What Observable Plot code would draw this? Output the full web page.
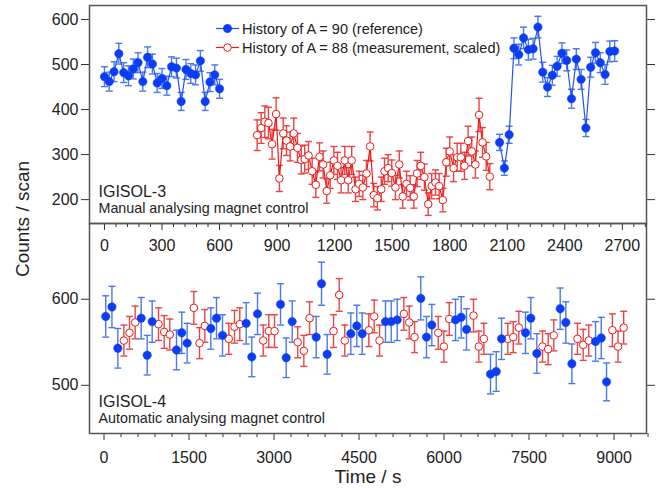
<!DOCTYPE html>
<html><head><meta charset="utf-8">
<script src="https://cdn.jsdelivr.net/npm/d3@7"></script>
<script src="https://cdn.jsdelivr.net/npm/@observablehq/plot@0.6"></script>
<style>
body{margin:0;background:#fff;font-family:"Liberation Sans",Arial,sans-serif;color:#222;}
#wrap{position:relative;width:660px;height:490px;overflow:hidden;}
.lbl{position:absolute;white-space:nowrap;font-size:19px;line-height:19px;color:#222;}
#legend{position:absolute;left:214px;top:19px;font-size:14.5px;color:#222;}
#legend .row{display:flex;align-items:center;height:19px;}
#legend svg{display:block;margin-right:1px;}
</style></head><body><div id="wrap"></div>
<script>
// ---------- data ----------
// Top panel (IGISOL-3), x in seconds
const topBlueT1 = [0,25,50,75,100,125,150,175,200,225,250,275,300,325,350,375,400,425,450,475,500,525,550,575,600];
const topBlueV1 = [473,462,484,524,482,475,490,504,462,516,501,459,469,453,495,492,418,489,480,477,508,418,461,477,446];
const topBlueE1 = [22,21,22,23,22,22,22,22,21,23,22,21,22,21,22,22,20,22,22,22,23,20,21,22,21];
const topBlueT2 = [2060,2085,2110,2135,2160,2185,2210,2235,2260,2285,2310,2335,2360,2385,2410,2435,2460,2485,2510,2535,2560,2585,2610,2635,2660];
const topBlueV2 = [327,270,344,536,522,559,533,535,583,483,450,476,496,525,509,424,512,467,359,494,526,504,478,529,530];
const topBlueE2 = [18,16,19,23,23,24,23,23,24,22,21,22,22,23,23,21,23,22,19,22,23,22,22,23,23];
const topRedT = [796,817,836,855,874,895,912,932,949,968,987,1006,1026,1044,1064,1083,1102,1121,1140,1159,1177,1196,1215,1234,1253,1271,1289,1309,1328,1347,1366,1385,1404,1423,1443,1460,1479,1498,1517,1537,1555,1575,1594,1613,1630,1649,1668,1688,1706,1726,1745,1764,1782,1800,1820,1839,1858,1877,1896,1915,1934,1953,1971,1990,2009];
const topRedV = [343,359,373,370,323,390,247,347,331,318,347,315,288,290,298,263,233,295,278,219,254,287,275,243,287,243,287,223,235,227,258,318,210,203,223,263,270,259,227,278,207,235,226,207,258,275,250,190,230,238,230,199,283,307,270,294,294,275,330,307,278,388,327,296,251];
const topRedE = [34,34,35,35,33,36,29,34,33,32,34,32,31,31,31,29,28,31,30,27,29,31,30,28,31,28,31,27,28,27,29,32,26,26,27,29,30,29,27,30,26,28,27,26,29,30,29,25,28,28,28,26,31,32,30,31,31,30,33,32,30,37,33,31,29];

// Bottom panel (IGISOL-4)
const botBlueT = [30,140,244,656,762,850,1279,1372,1467,1885,1985,2091,2509,2608,2709,3115,3215,3321,3744,3838,3938,4355,4461,4556,4967,5068,5174,5590,5691,5785,6203,6303,6397,6820,6921,7015,7438,7532,7638,8050,8149,8256,8674,8774,8868];
const botBlueV = [580,591,543,578,535,574,541,561,549,566,578,558,572,533,583,594,532,574,556,618,536,560,569,560,574,574,576,601,556,570,576,579,565,513,516,554,561,578,537,589,573,525,551,555,504];
const botBlueE = [24,24,23,24,23,24,23,24,23,24,24,24,24,23,24,24,23,24,24,25,23,24,24,24,24,24,24,25,24,24,24,24,24,23,23,24,24,24,23,24,24,23,23,24,22];
const botRedT = [350,450,550,962,1062,1161,1585,1685,1779,2202,2303,2396,2809,2908,3009,3418,3526,3627,4050,4150,4249,4673,4768,4862,5291,5386,5480,5898,5997,6092,6520,6614,6703,7126,7221,7320,7738,7838,7937,8355,8456,8554,8971,9071,9170];
const botRedV = [552,561,573,571,562,559,590,549,569,554,568,571,552,563,563,550,540,578,563,605,552,564,580,552,583,573,556,561,545,577,581,545,554,554,556,567,545,542,558,554,547,552,564,545,567];
const botRedE = [18,19,19,19,19,18,19,18,19,18,19,19,18,19,19,18,18,19,19,19,18,19,19,18,19,19,18,19,18,19,19,18,18,18,18,19,18,18,18,18,18,18,19,18,19];

// Axis ticks
const topYTicks = [200,300,400,500,600];
const topXTicks = [0,300,600,900,1200,1500,1800,2100,2400,2700];
const topXMinor = d3.range(0, 2821, 60).filter(v => v % 300 !== 0);
const botYTicks = [500,600];
const botXTicks = [0,1500,3000,4500,6000,7500,9000];
const botXMinor = d3.range(0, 9601, 300).filter(v => v % 1500 !== 0);

const seriesNames = ["History of A = 90 (reference)", "History of A = 88 (measurement, scaled)"];
const panelTitles = ["IGISOL-3", "IGISOL-4"];
const panelSubtitles = ["Manual analysing magnet control", "Automatic analysing magnet control"];
const yLabel = "Counts / scan";
const xLabel = "Time / s";

// ---------- styling ----------
const BLUE = "#0b3cf6", BLUE_LINE = "#2453f0", BLUE_ERR = "#4a78ea";
const RED = "#e81c1c", RED_LINE = "#ee1a1a", RED_ERR = "#e84444";
const FRAME = "#555";

const rows = (T, V, E, seg) => T.map((t, i) => ({t, v: V[i], e: E[i], seg}));
const capSym = {draw(ctx, size) { const w = Math.sqrt(size / Math.PI); ctx.moveTo(-w, 0); ctx.lineTo(w, 0); }};
const fmt = d => String(d);

function errMarks(data, color) {
  return [
    Plot.ruleX(data, {x: "t", y1: d => d.v - d.e, y2: d => d.v + d.e, stroke: color, strokeWidth: 1.4}),
    Plot.dot(data, {x: "t", y: d => d.v + d.e, symbol: capSym, r: 3.5, fill: "none", stroke: color, strokeWidth: 1.4}),
    Plot.dot(data, {x: "t", y: d => d.v - d.e, symbol: capSym, r: 3.5, fill: "none", stroke: color, strokeWidth: 1.4})
  ];
}

function panel(o) {
  return Plot.plot({
    width: 660, height: 490,
    marginLeft: 89, marginRight: 14, marginTop: o.mTop, marginBottom: o.mBottom,
    style: "position:absolute;left:0;top:0;background:transparent;overflow:visible;font-family:'Liberation Sans',Arial,sans-serif;color:#222;",
    x: {domain: o.xDomain, label: null},
    y: {domain: o.yDomain, label: null},
    marks: [
      Plot.axisY(o.yTicks, {anchor: "left", tickSize: 8, tickPadding: 3, fontSize: 16, tickFormat: fmt, label: null, stroke: "#333"}),
      Plot.axisY(o.yTicks, {anchor: "right", tickSize: 8, tickFormat: () => "", label: null, stroke: "#333"}),
      Plot.axisX(o.xTicks, {anchor: "bottom", tickSize: 7, tickPadding: o.xPad, fontSize: 16, tickFormat: fmt, label: null, stroke: "#333"}),
      Plot.axisX(o.xMinor, {anchor: "bottom", tickSize: 4, tickFormat: () => "", label: null, stroke: "#333"}),
      ...errMarks(o.red, RED_ERR),
      ...errMarks(o.blue, BLUE_ERR),
      ...(o.lines ? [
        Plot.line(o.red, {x: "t", y: "v", stroke: RED_LINE, strokeWidth: 1.2}),
        Plot.line(o.blue, {x: "t", y: "v", z: "seg", stroke: BLUE_LINE, strokeWidth: 1.2})
      ] : []),
      Plot.dot(o.red, {x: "t", y: "v", r: 3.8, fill: "white", stroke: RED, strokeWidth: 1}),
      Plot.dot(o.blue, {x: "t", y: "v", r: 4.2, fill: BLUE, stroke: BLUE, strokeWidth: 0.5}),
      Plot.text([o.title], {frameAnchor: "bottom-left", dx: 9, dy: -27, fontSize: 16, textAnchor: "start", lineAnchor: "bottom", fill: "#222"}),
      Plot.text([o.subtitle], {frameAnchor: "bottom-left", dx: 9, dy: -10.5, fontSize: 14.3, textAnchor: "start", lineAnchor: "bottom", fill: "#222"}),
      Plot.frame({stroke: FRAME, strokeWidth: 1.5})
    ]
  });
}

const wrap = document.getElementById("wrap");

const bottomPanel = panel({
  mTop: 223, mBottom: 57, xDomain: [-256, 9573], yDomain: [444, 688],
  yTicks: botYTicks, xTicks: botXTicks, xMinor: botXMinor, xPad: 11,
  blue: rows(botBlueT, botBlueV, botBlueE, "b"),
  red: rows(botRedT, botRedV, botRedE, "r"),
  lines: false, title: panelTitles[1], subtitle: panelSubtitles[1]
});
const topPanel = panel({
  mTop: 5, mBottom: 267, xDomain: [-78, 2826], yDomain: [147, 631],
  yTicks: topYTicks, xTicks: topXTicks, xMinor: topXMinor, xPad: 9,
  blue: rows(topBlueT1, topBlueV1, topBlueE1, "a").concat(rows(topBlueT2, topBlueV2, topBlueE2, "b")),
  red: rows(topRedT, topRedV, topRedE, "r"),
  lines: true, title: panelTitles[0], subtitle: panelSubtitles[0]
});
wrap.appendChild(bottomPanel);
wrap.appendChild(topPanel);

// axis titles
const yl = document.createElement("div");
yl.className = "lbl"; yl.textContent = yLabel;
yl.style.left = "22px"; yl.style.top = "219px";
yl.style.transform = "translate(-50%,-50%) rotate(-90deg)";
wrap.appendChild(yl);
const xl = document.createElement("div");
xl.className = "lbl"; xl.textContent = xLabel;
xl.style.left = "368px"; xl.style.top = "467px";
xl.style.transform = "translateX(-50%)";
wrap.appendChild(xl);

// legend
const leg = document.createElement("div");
leg.id = "legend";
const ns = "http://www.w3.org/2000/svg";
[[BLUE_LINE, BLUE, BLUE], [RED_LINE, "white", RED]].forEach(([lc, fillC, strokeC], i) => {
  const row = document.createElement("div"); row.className = "row";
  const s = document.createElementNS(ns, "svg");
  s.setAttribute("width", 27); s.setAttribute("height", 19);
  const ln = document.createElementNS(ns, "line");
  ln.setAttribute("x1", 2); ln.setAttribute("x2", 25); ln.setAttribute("y1", 9.5); ln.setAttribute("y2", 9.5);
  ln.setAttribute("stroke", lc); ln.setAttribute("stroke-width", 1.2);
  const c = document.createElementNS(ns, "circle");
  c.setAttribute("cx", 13.5); c.setAttribute("cy", 9.5); c.setAttribute("r", i ? 3.8 : 4.2);
  c.setAttribute("fill", fillC); c.setAttribute("stroke", strokeC); c.setAttribute("stroke-width", i ? 1 : 0.5);
  s.appendChild(ln); s.appendChild(c);
  const sp = document.createElement("span"); sp.textContent = seriesNames[i];
  row.appendChild(s); row.appendChild(sp);
  leg.appendChild(row);
});
wrap.appendChild(leg);
</script>
</body></html>
